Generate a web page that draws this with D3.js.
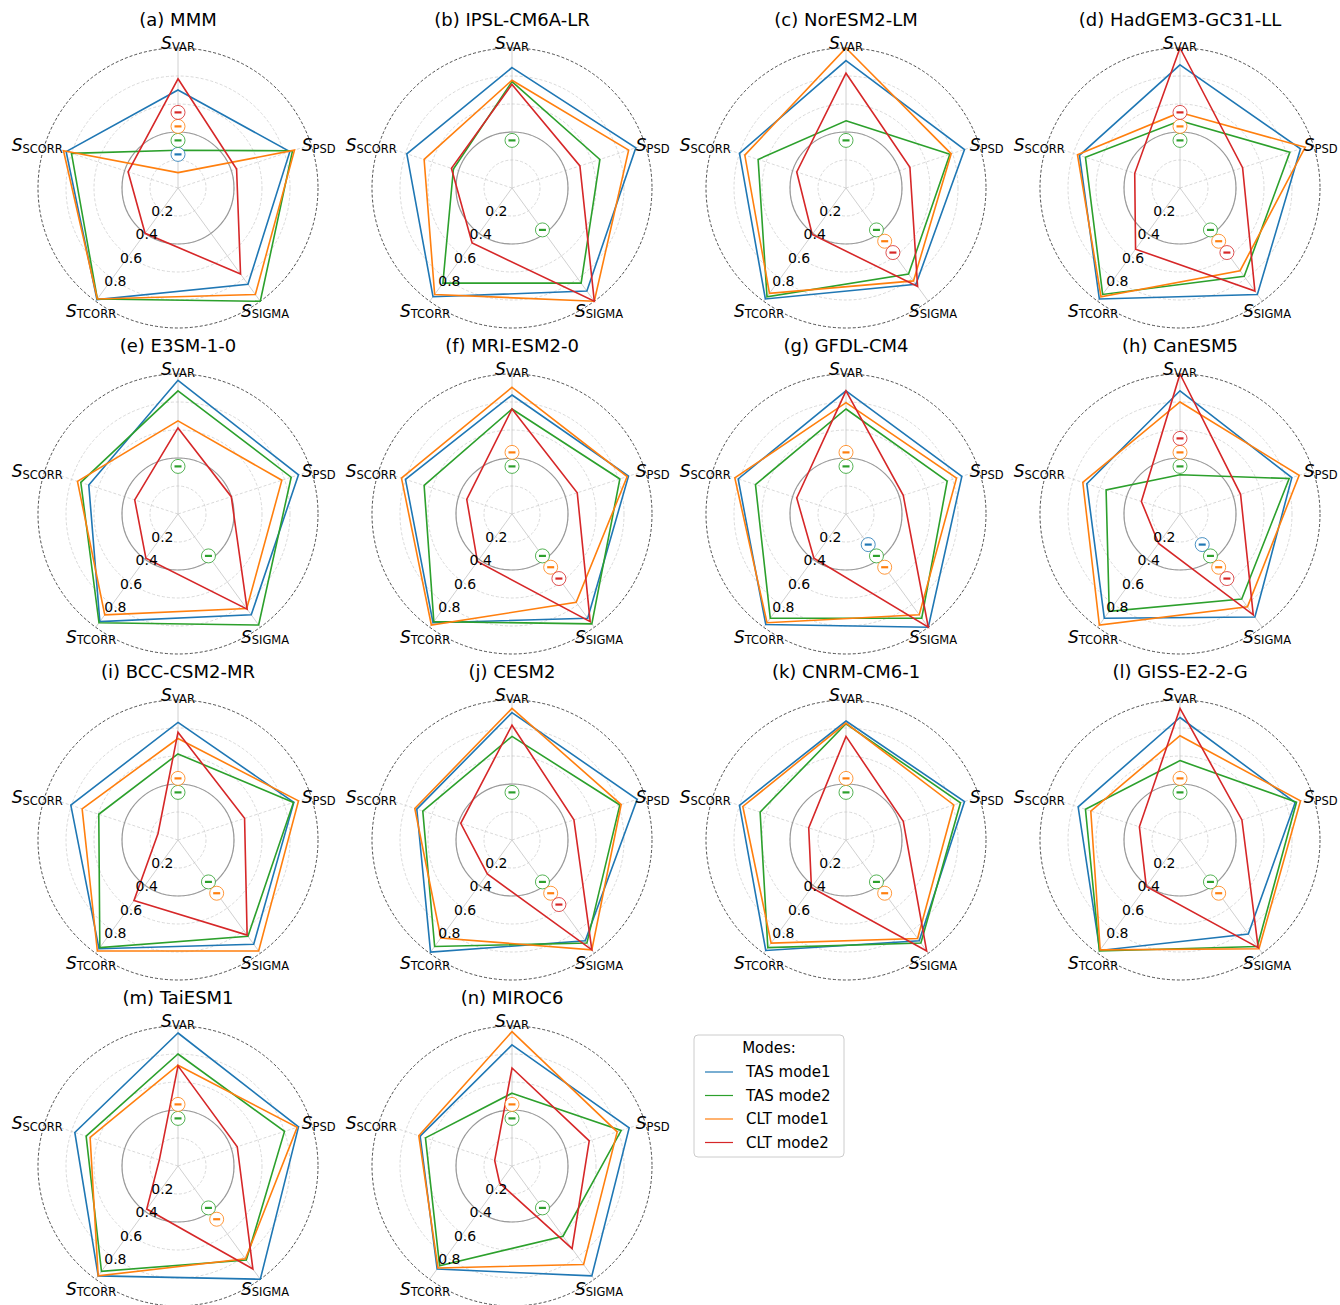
<!DOCTYPE html>
<html><head><meta charset="utf-8">
<script src="https://cdn.jsdelivr.net/npm/d3@7"></script>
<style>
body{margin:0;background:#fff}
svg{display:block}
text{font-family:"DejaVu Sans",sans-serif;fill:#000}
</style>
</head><body>
<svg id="chart" width="1340" height="1305"></svg>
<script>
// Skill-score axes, clockwise from the top
const axisKeys = ["VAR", "PSD", "SIGMA", "TCORR", "SCORR"];
const modeNames = ["TAS mode1", "TAS mode2", "CLT mode1", "CLT mode2"];
const modeColors = ["#1f77b4", "#2ca02c", "#ff7f0e", "#d62728"];
const panelTitles = ["(a) MMM", "(b) IPSL-CM6A-LR", "(c) NorESM2-LM", "(d) HadGEM3-GC31-LL",
  "(e) E3SM-1-0", "(f) MRI-ESM2-0", "(g) GFDL-CM4", "(h) CanESM5",
  "(i) BCC-CSM2-MR", "(j) CESM2", "(k) CNRM-CM6-1", "(l) GISS-E2-2-G",
  "(m) TaiESM1", "(n) MIROC6"];

// Scores per panel, in axisKeys order
const tasMode1 = [
  [0.70, 0.84, 0.85, 0.985, 0.84],
  [0.86, 0.93, 0.91, 0.96, 0.79],
  [0.91, 0.89, 0.85, 0.98, 0.80],
  [0.88, 0.905, 0.94, 0.98, 0.755],
  [0.955, 0.905, 0.89, 0.95, 0.67],
  [0.85, 0.875, 0.92, 0.96, 0.80],
  [0.88, 0.87, 1.00, 0.975, 0.81],
  [0.88, 0.84, 0.91, 0.92, 0.70],
  [0.84, 0.87, 0.92, 0.96, 0.805],
  [0.91, 0.94, 0.89, 0.99, 0.715],
  [0.85, 0.89, 0.89, 0.975, 0.80],
  [0.875, 0.865, 0.83, 0.975, 0.765],
  [0.95, 0.905, 1.00, 0.97, 0.775],
  [0.865, 0.88, 0.97, 0.91, 0.69]
];
const tasMode2 = [
  [0.27, 0.86, 1.00, 0.98, 0.80],
  [0.76, 0.66, 0.84, 0.84, 0.44],
  [0.48, 0.78, 0.76, 0.96, 0.66],
  [0.48, 0.825, 0.78, 0.94, 0.71],
  [0.88, 0.85, 0.98, 0.96, 0.73],
  [0.75, 0.81, 0.97, 0.95, 0.66],
  [0.75, 0.76, 0.92, 0.92, 0.68],
  [0.28, 0.82, 0.75, 0.86, 0.555],
  [0.615, 0.867, 0.85, 0.95, 0.595],
  [0.74, 0.81, 0.91, 0.94, 0.67],
  [0.83, 0.86, 0.91, 0.95, 0.645],
  [0.567, 0.875, 0.94, 0.98, 0.71],
  [0.80, 0.80, 0.83, 0.93, 0.69],
  [0.52, 0.82, 0.62, 0.88, 0.65]
];
const cltMode1 = [
  [0.11, 0.875, 0.94, 0.98, 0.86],
  [0.77, 0.876, 1.00, 0.94, 0.66],
  [1.00, 0.79, 0.82, 0.93, 0.76],
  [0.54, 0.94, 0.73, 0.96, 0.77],
  [0.665, 0.78, 0.835, 0.89, 0.755],
  [0.905, 0.865, 0.78, 0.98, 0.83],
  [0.795, 0.83, 0.89, 0.96, 0.835],
  [0.80, 0.895, 0.82, 0.98, 0.73],
  [0.725, 0.905, 0.98, 0.98, 0.72],
  [0.94, 0.82, 0.97, 0.865, 0.73],
  [0.835, 0.81, 0.87, 0.91, 0.775],
  [0.745, 0.905, 0.96, 0.97, 0.67],
  [0.72, 0.895, 0.82, 0.97, 0.66],
  [0.96, 0.79, 0.87, 0.90, 0.70]
];
const cltMode2 = [
  [0.78, 0.44, 0.76, 0.40, 0.375],
  [0.74, 0.51, 1.00, 0.485, 0.455],
  [0.82, 0.48, 0.87, 0.41, 0.37],
  [1.00, 0.47, 0.91, 0.54, 0.34],
  [0.615, 0.40, 0.84, 0.39, 0.325],
  [0.75, 0.49, 0.95, 0.42, 0.34],
  [0.88, 0.43, 1.00, 0.39, 0.37],
  [1.00, 0.455, 0.89, 0.26, 0.29],
  [0.77, 0.50, 0.84, 0.535, 0.15],
  [0.82, 0.465, 0.97, 0.30, 0.385],
  [0.74, 0.43, 0.98, 0.42, 0.28],
  [0.94, 0.465, 0.95, 0.41, 0.305],
  [0.715, 0.445, 0.91, 0.38, 0.14],
  [0.70, 0.58, 0.73, 0.15, 0.13]
];

// Modes flagged with a negative sign on the VAR and SIGMA axes (mode indices)
const negVarModes = [[0,1,2,3],[1],[1],[1,2,3],[1],[1,2],[1,2],[1,2,3],[1,2],[1],[1,2],[1,2],[1,2],[1,2]];
const negSigmaModes = [[],[1],[1,2,3],[1,2,3],[1],[1,2,3],[0,1,2],[0,1,2,3],[1,2],[1,2,3],[1,2],[1,2],[1,2],[1]];
const flagRadiusVar = [0.24, 0.34, 0.44, 0.54];
const flagRadiusSigma = [0.27, 0.37, 0.47, 0.57];

const radialTicks = [0.2, 0.4, 0.6, 0.8];
const refCircle = 0.4;

const seriesByMode = [tasMode1, tasMode2, cltMode1, cltMode2];

const svg = d3.select("#chart");
const R = 140;
const rScale = d3.scaleLinear().domain([0, 1]).range([0, R]);
const angle = d3.scaleLinear().domain([0, axisKeys.length]).range([0, 2 * Math.PI]);
const labelAngle = angle(3) - 0.035; // radial tick labels sit along the TCORR spoke

const polar = (a, r) => [r * Math.sin(a), -r * Math.cos(a)];

const radarLine = d3.lineRadial()
  .angle((d, i) => angle(i))
  .radius(d => rScale(d))
  .curve(d3.curveLinearClosed);

const colX = [178, 512, 846, 1180];
const rowY = [188, 514, 840, 1166];

panelTitles.forEach((title, p) => {
  const cx = colX[p % 4], cy = rowY[Math.floor(p / 4)];
  const g = svg.append("g").attr("transform", `translate(${cx},${cy})`);

  // dashed grid circles
  g.selectAll("circle.grid").data(radialTicks).join("circle")
    .attr("r", d => rScale(d))
    .attr("fill", "none").attr("stroke", "#cfcfcf")
    .attr("stroke-width", 0.8).attr("stroke-dasharray", "3,2");

  // spokes
  axisKeys.forEach((k, i) => {
    const [x, y] = polar(angle(i), rScale(1));
    const solid = (k === "VAR" || k === "SIGMA" || k === "TCORR");
    g.append("line").attr("x1", 0).attr("y1", 0).attr("x2", x).attr("y2", y)
      .attr("stroke", solid ? "#c4c4c4" : "#cfcfcf")
      .attr("stroke-width", 0.8)
      .attr("stroke-dasharray", solid ? null : "3,2");
  });

  // reference circle
  g.append("circle").attr("r", rScale(refCircle))
    .attr("fill", "none").attr("stroke", "#9a9a9a").attr("stroke-width", 1.2);

  // outer boundary
  g.append("circle").attr("r", rScale(1))
    .attr("fill", "none").attr("stroke", "#222").attr("stroke-width", 0.8)
    .attr("stroke-dasharray", "3,2");

  // mode polygons
  seriesByMode.forEach((series, m) => {
    g.append("path").attr("d", radarLine(series[p]))
      .attr("fill", "none").attr("stroke", modeColors[m])
      .attr("stroke-width", 1.6).attr("stroke-linejoin", "miter");
  });

  // negative-sign markers
  const flagMarks = [];
  negVarModes[p].forEach(m => flagMarks.push({m, a: angle(0), r: flagRadiusVar[m]}));
  negSigmaModes[p].forEach(m => flagMarks.push({m, a: angle(2), r: flagRadiusSigma[m]}));
  flagMarks.forEach(f => {
    const [x, y] = polar(f.a, rScale(f.r));
    const mg = g.append("g").attr("transform", `translate(${x},${y})`);
    mg.append("circle").attr("r", 7).attr("fill", "#fff")
      .attr("stroke", modeColors[f.m]).attr("stroke-width", 1).attr("stroke-opacity", 0.8);
    mg.append("line").attr("x1", -3.5).attr("x2", 3.5).attr("y1", 0).attr("y2", 0)
      .attr("stroke", modeColors[f.m]).attr("stroke-width", 2.2);
  });

  // radial tick labels
  radialTicks.forEach(t => {
    const [x, y] = polar(labelAngle, rScale(t));
    g.append("text").attr("x", x).attr("y", y + 5)
      .attr("text-anchor", "middle").attr("font-size", 14).text(t.toFixed(1));
  });

  // axis labels
  axisKeys.forEach((k, i) => {
    const [x, y] = polar(angle(i), 148);
    const t = g.append("text").attr("x", x).attr("y", y + 9).attr("text-anchor", "middle");
    t.append("tspan").attr("font-style", "italic").attr("font-size", 17).text("S");
    t.append("tspan").attr("font-size", 11.5).attr("dy", 1.5).text(k);
  });

  // panel title
  g.append("text").attr("x", 0).attr("y", -162)
    .attr("text-anchor", "middle").attr("font-size", 18).text(title);
});

// legend
const lg = svg.append("g").attr("transform", "translate(694,1035)");
lg.append("rect").attr("width", 150).attr("height", 122).attr("rx", 4)
  .attr("fill", "#fff").attr("stroke", "#cccccc").attr("stroke-width", 1);
lg.append("text").attr("x", 75).attr("y", 18).attr("text-anchor", "middle")
  .attr("font-size", 15).text("Modes:");
modeNames.forEach((name, i) => {
  const y = 37 + i * 23.5;
  lg.append("line").attr("x1", 11).attr("x2", 39).attr("y1", y).attr("y2", y)
    .attr("stroke", modeColors[i]).attr("stroke-width", 1.2);
  lg.append("text").attr("x", 52).attr("y", y + 5).attr("font-size", 15).text(name);
});
</script>
</body></html>
